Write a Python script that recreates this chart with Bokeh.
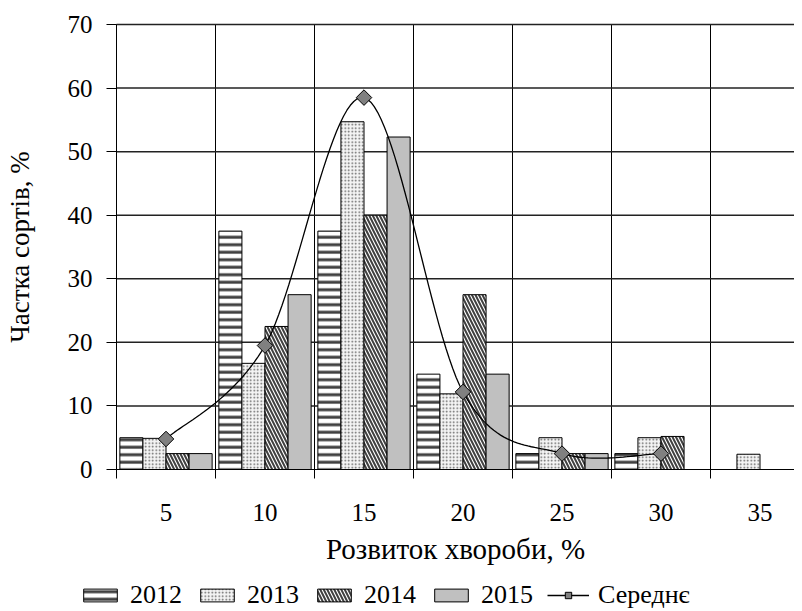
import numpy as np
from bokeh.plotting import figure
from bokeh.models import FixedTicker, Range1d, Legend, LegendItem, ColumnDataSource
from bokeh.embed import file_html
from bokeh.resources import INLINE

# ---- data ----
categories = [5, 10, 15, 20, 25, 30, 35]
tick_labels = ["5", "10", "15", "20", "25", "30", "35"]
y2012 = [5, 37.5, 37.5, 15, 2.5, 2.5, 0]
y2013 = [4.9, 16.7, 54.7, 11.9, 5, 5, 2.4]
y2014 = [2.5, 22.5, 40, 27.5, 2.5, 5.2, 0]
y2015 = [2.5, 27.5, 52.3, 15, 2.5, 0, 0]
mean_x = [5, 10, 15, 20, 25, 30]
mean_y = [4.8, 19.5, 58.5, 12.2, 2.5, 2.5]
y_ticks = [0, 10, 20, 30, 40, 50, 60, 70]
y_min, y_max = 0, 70

FONT = "Liberation Serif"
W, H = 794, 611
# plot-area geometry in pixels (frame covers the whole canvas)
AX_LEFT, AX_TOP, AX_BOTTOM = 116, 24, 469
CAT_PX = 99.0
step = 5
x_start = categories[0] - step / 2
px_per_x = CAT_PX / step
px_per_y = (AX_BOTTOM - AX_TOP) / (y_max - y_min)
x_lo = x_start - AX_LEFT / px_per_x
x_hi = x_start + (W - AX_LEFT) / px_per_x
y_hi = y_max + AX_TOP / px_per_y
y_lo = y_min - (H - AX_BOTTOM) / px_per_y

p = figure(width=W, height=H, output_backend="svg", toolbar_location=None,
           x_range=Range1d(x_lo, x_hi), y_range=Range1d(y_lo, y_hi),
           min_border_left=0, min_border_right=0, min_border_top=0,
           min_border_bottom=0)
p.outline_line_color = None
p.background_fill_color = "white"
p.border_fill_color = "white"

# grid lines limited to the plot area
boundaries = [c - step / 2 for c in categories] + [categories[-1] + step / 2]
p.segment(x0=boundaries, y0=[y_min] * len(boundaries), x1=boundaries,
          y1=[y_max] * len(boundaries), line_color="black", line_width=1)
hy = y_ticks[1:]
p.segment(x0=[x_start] * len(hy), y0=hy, x1=[x_hi] * len(hy), y1=hy,
          line_color="#222222", line_width=1.5)
p.xgrid.visible = False
p.ygrid.visible = False

bw = step * 0.233
offsets = [-1.5 * bw, -0.5 * bw, 0.5 * bw, 1.5 * bw]
series = [("2012", y2012, dict(fill_color="white", hatch_pattern="-", hatch_color="#404040", hatch_scale=7.5, hatch_weight=3)),
          ("2013", y2013, dict(fill_color="#f4f4f4", hatch_pattern=".", hatch_color="#606060", hatch_scale=3.5, hatch_weight=1.5)),
          ("2014", y2014, dict(fill_color="white", hatch_pattern="\\", hatch_color="#404040", hatch_scale=7, hatch_weight=2)),
          ("2015", y2015, dict(fill_color="#c0c0c0"))]

items = []
for (name, vals, style), off in zip(series, offsets):
    xs = [c + off for c, v in zip(categories, vals) if v > 0]
    ys = [v for v in vals if v > 0]
    src = ColumnDataSource(dict(x=xs, top=ys))
    r = p.vbar(x="x", top="top", bottom=0, width=bw, source=src,
               line_color="black", line_width=1, **style)
    items.append(LegendItem(label=name, renderers=[r]))

# smoothed line (Bezier through mean points, Excel-like)
pts = np.array(list(zip(mean_x, mean_y)), dtype=float)
n = len(pts)
sx, sy = [], []
t = np.linspace(0, 1, 30)
for i in range(n - 1):
    p0 = pts[i - 1] if i > 0 else pts[i]
    p1 = pts[i]
    p2 = pts[i + 1]
    p3 = pts[i + 2] if i + 2 < n else pts[i + 1]
    c1 = p1 + (p2 - p0) / 6
    c2 = p2 - (p3 - p1) / 6
    b = ((1 - t) ** 3)[:, None] * p1 + (3 * (1 - t) ** 2 * t)[:, None] * c1 + \
        (3 * (1 - t) * t ** 2)[:, None] * c2 + (t ** 3)[:, None] * p2
    sx.extend(b[:, 0]); sy.extend(b[:, 1])
lr = p.line(sx, sy, line_color="black", line_width=1.3)
mr = p.scatter(mean_x, mean_y, marker="square", size=11, angle=np.pi / 4,
               fill_color="#808080", line_color="black", line_width=1)
items.append(LegendItem(label="Середнє", renderers=[lr, mr]))

# x axis pinned at y=0
xt = FixedTicker(ticks=categories, minor_ticks=boundaries)
p.xaxis.fixed_location = y_min
p.xaxis.ticker = xt
p.xaxis.bounds = (x_start, x_hi)
p.xaxis.major_label_overrides = {c: l for c, l in zip(categories, tick_labels)}
p.xaxis.major_tick_line_color = None
p.xaxis.minor_tick_line_color = "black"
p.xaxis.minor_tick_out = 9
p.xaxis.minor_tick_in = 0
p.xaxis.axis_line_color = "black"
p.xaxis.major_label_standoff = 25
p.xaxis.axis_label = "Розвиток хвороби, %"
p.xaxis.axis_label_standoff = 9

# y axis pinned at left edge of the category area
p.yaxis.fixed_location = x_start
p.yaxis.ticker = FixedTicker(ticks=y_ticks)
p.yaxis.bounds = (y_min, y_max)
p.yaxis.minor_tick_line_color = None
p.yaxis.major_tick_out = 10
p.yaxis.major_tick_in = 0
p.yaxis.major_tick_line_color = "black"
p.yaxis.axis_line_color = "black"
p.yaxis.major_label_standoff = 14
p.yaxis.axis_label = "Частка сортів, %"
p.yaxis.axis_label_standoff = 30

for ax in (p.xaxis, p.yaxis):
    ax.major_label_text_font = FONT
    ax.major_label_text_font_size = "25px"
    ax.major_label_text_color = "black"
    ax.axis_label_text_font = FONT
    ax.axis_label_text_font_style = "normal"
    ax.axis_label_text_color = "black"
p.xaxis.axis_label_text_font_size = "29px"
p.yaxis.axis_label_text_font_size = "27px"

legend = Legend(items=items, orientation="horizontal", location=(79, 1),
                label_text_font=FONT, label_text_font_size="26px",
                label_text_color="black", label_height=20,
                glyph_width=42, glyph_height=16, label_standoff=9, spacing=14,
                border_line_color=None, background_fill_alpha=0,
                padding=0, margin=0)
p.add_layout(legend, "center")

open("out.html", "w").write(file_html(p, INLINE))
